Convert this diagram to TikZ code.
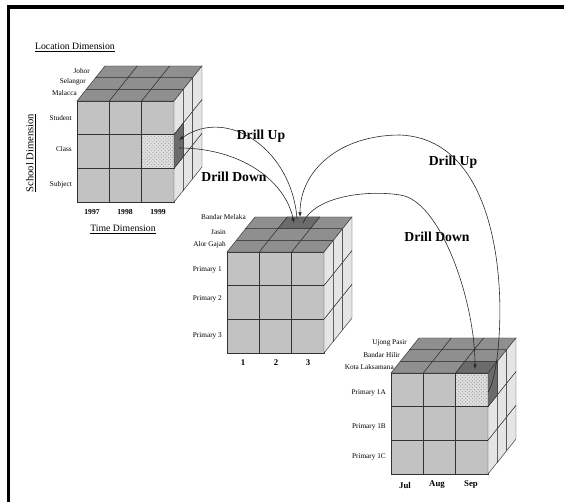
\documentclass[tikz,border=0pt]{standalone}
\usepackage{fontspec}
\setmainfont{Liberation Serif}
\usetikzlibrary{arrows.meta}
\usetikzlibrary{patterns}

\begin{document}
\begin{tikzpicture}[x=0.03cm, y=-0.03cm,
    cell/.style={draw=black!80, line width=0.4pt},
    frontcell/.style={cell, fill=black!24},
    topcell/.style={cell, fill=black!44},
    sidecell/.style={cell, fill=black!10},
    darkcell/.style={cell, fill=black!58},
    dotcell/.style={cell, preaction={fill=black!12}, pattern=crosshatch dots, pattern color=black!40},
    lbl/.style={inner sep=0pt, font=\fontsize{6.2}{7}\selectfont},
    collbl/.style={inner sep=0pt, font=\fontsize{7.5}{8}\selectfont\bfseries},
    dimlbl/.style={inner sep=0pt, font=\fontsize{8.3}{9}\selectfont},
    drilllbl/.style={inner sep=0pt, font=\fontsize{11.7}{12}\selectfont\bfseries},
    drill/.style={line width=0.5pt, draw=black!85}
    ]

    \useasboundingbox (0,0) rectangle (564,502);

    % frame
    \draw[line width=3pt] (8.5,502) -- (8.5,7) -- (564,7);

    % cube 1 : school / time / location
    \begin{scope}[shift={(77,101)}]
        \foreach \i in {0,1,2}
            \foreach \j in {0,1,2}
                \draw[frontcell] (\i*32.33,\j*33.67) rectangle ++(32.33,33.67);
        \foreach \i in {0,1,2}
            \foreach \k in {0,1,2}
                \draw[topcell] (\i*32.33+\k*9.33,-\k*11.67) -- ++(32.33,0) -- ++(9.33,-11.67) -- ++(-32.33,0) -- cycle;
        \foreach \k in {0,1,2}
            \foreach \j in {0,1,2}
                \draw[sidecell] (97+\k*9.33,\j*33.67-\k*11.67) -- ++(9.33,-11.67) -- ++(0,33.67) -- ++(-9.33,11.67) -- cycle;
        \draw[dotcell] (64.67,33.67) rectangle ++(32.33,33.67);
        \draw[darkcell] (97,33.67) -- ++(9.33,-11.67) -- ++(0,33.67) -- ++(-9.33,11.67) -- cycle;
    \end{scope}

    % cube 2
    \begin{scope}[shift={(227,252)}]
        \foreach \i in {0,1,2}
            \foreach \j in {0,1,2}
                \draw[frontcell] (\i*32.33,\j*33.67) rectangle ++(32.33,33.67);
        \foreach \i in {0,1,2}
            \foreach \k in {0,1,2}
                \draw[topcell] (\i*32.33+\k*9.33,-\k*11.67) -- ++(32.33,0) -- ++(9.33,-11.67) -- ++(-32.33,0) -- cycle;
        \foreach \k in {0,1,2}
            \foreach \j in {0,1,2}
                \draw[sidecell] (97+\k*9.33,\j*33.67-\k*11.67) -- ++(9.33,-11.67) -- ++(0,33.67) -- ++(-9.33,11.67) -- cycle;
        \draw[darkcell] (32.33+2*9.33,-2*11.67) -- ++(32.33,0) -- ++(9.33,-11.67) -- ++(-32.33,0) -- cycle;
    \end{scope}

    % cube 3
    \begin{scope}[shift={(391,373)}]
        \foreach \i in {0,1,2}
            \foreach \j in {0,1,2}
                \draw[frontcell] (\i*32.33,\j*33.67) rectangle ++(32.33,33.67);
        \foreach \i in {0,1,2}
            \foreach \k in {0,1,2}
                \draw[topcell] (\i*32.33+\k*9.33,-\k*11.67) -- ++(32.33,0) -- ++(9.33,-11.67) -- ++(-32.33,0) -- cycle;
        \foreach \k in {0,1,2}
            \foreach \j in {0,1,2}
                \draw[sidecell] (97+\k*9.33,\j*33.67-\k*11.67) -- ++(9.33,-11.67) -- ++(0,33.67) -- ++(-9.33,11.67) -- cycle;
        \draw[dotcell] (64.67,0) rectangle ++(32.33,33.67);
        \draw[darkcell] (64.67,0) -- ++(32.33,0) -- ++(9.33,-11.67) -- ++(-32.33,0) -- cycle;
        \draw[darkcell] (97,0) -- ++(9.33,-11.67) -- ++(0,33.67) -- ++(-9.33,11.67) -- cycle;
    \end{scope}

    % labels cube 1
    \node[dimlbl] (locdim) at (75,47) {\underline{Location Dimension}};
    \node[dimlbl, font=\fontsize{9}{10}\selectfont, rotate=90] (schooldim) at (31,153) {\underline{School Dimension}};
    \node[dimlbl] (timedim) at (123,229) {\underline{Time Dimension}};
    \node[lbl, anchor=east] (johor) at (90,71) {Johor};
    \node[lbl, anchor=east] (selangor) at (86,82) {Selangor};
    \node[lbl, anchor=east] (malacca) at (77,93) {Malacca};
    \node[lbl, anchor=east] (student) at (72,118) {Student};
    \node[lbl, anchor=east] (class) at (72,149) {Class};
    \node[lbl, anchor=east] (subject) at (72,185) {Subject};
    \node[lbl, font=\fontsize{6.5}{7}\selectfont\bfseries] (y97) at (92,212) {1997};
    \node[lbl, font=\fontsize{6.5}{7}\selectfont\bfseries] (y98) at (125,212) {1998};
    \node[lbl, font=\fontsize{6.5}{7}\selectfont\bfseries] (y99) at (158,212) {1999};

    % labels cube 2
    \node[lbl, anchor=east] (bmelaka) at (246,217) {Bandar Melaka};
    \node[lbl, anchor=east] (jasin) at (226,232) {Jasin};
    \node[lbl, anchor=east] (alorgajah) at (226,245) {Alor Gajah};
    \node[lbl, anchor=east] (pri1) at (222,270) {Primary 1};
    \node[lbl, anchor=east] (pri2) at (222,299) {Primary 2};
    \node[lbl, anchor=east] (pri3) at (222,336) {Primary 3};
    \node[collbl] (m1) at (243,363) {1};
    \node[collbl] (m2) at (276,363) {2};
    \node[collbl] (m3) at (308,363) {3};

    % labels cube 3
    \node[lbl, anchor=east] (ujong) at (407,343) {Ujong Pasir};
    \node[lbl, anchor=east] (bhilir) at (400,355) {Bandar Hilir};
    \node[lbl, anchor=east] (kota) at (394,367) {Kota Laksamana};
    \node[lbl, anchor=east] (pri1a) at (386,393) {Primary 1A};
    \node[lbl, anchor=east] (pri1b) at (386,427) {Primary 1B};
    \node[lbl, anchor=east] (pri1c) at (386,457) {Primary 1C};
    \node[collbl] (jul) at (405,485) {Jul};
    \node[collbl] (aug) at (437,485) {Aug};
    \node[collbl] (sep) at (471,485) {Sep};

    % drill labels
    \node[drilllbl] (up1) at (261,136) {Drill Up};
    \node[drilllbl] (down1) at (234,177) {Drill Down};
    \node[drilllbl] (up2) at (453,162) {Drill Up};
    \node[drilllbl] (down2) at (437,237) {Drill Down};

    % curve ends
    \coordinate (c1in) at (179,140);
    \coordinate (c1out) at (179,148);
    \coordinate (c2upout) at (297,219);
    \coordinate (c2downin) at (294,223);
    \coordinate (c2upin) at (300,217);
    \coordinate (c2downout) at (303,223);
    \coordinate (top1) at (400,135);
    \coordinate (top2) at (400,195);
    \coordinate (c3in) at (475,369);
    \coordinate (c3out) at (488,392);

    \draw[drill, -{Latex[length=4pt,width=3pt]}] (c2upout) .. controls (292,150) and (228,106) .. (c1in);
    \draw[drill, -{Latex[length=4pt,width=3pt]}] (c1out) .. controls (240,148) and (285,180) .. (c2downin);
    \draw[drill, -{Latex[length=4pt,width=3pt]}] (c3out) .. controls (505,370) and (522,140) .. (top1)
        .. controls (340,135) and (300,170) .. (c2upin);
    \draw[drill, -{Latex[length=4pt,width=3pt]}] (c2downout) .. controls (315,195) and (370,190) .. (top2)
        .. controls (440,200) and (475,300) .. (c3in);

\end{tikzpicture}
\end{document}
